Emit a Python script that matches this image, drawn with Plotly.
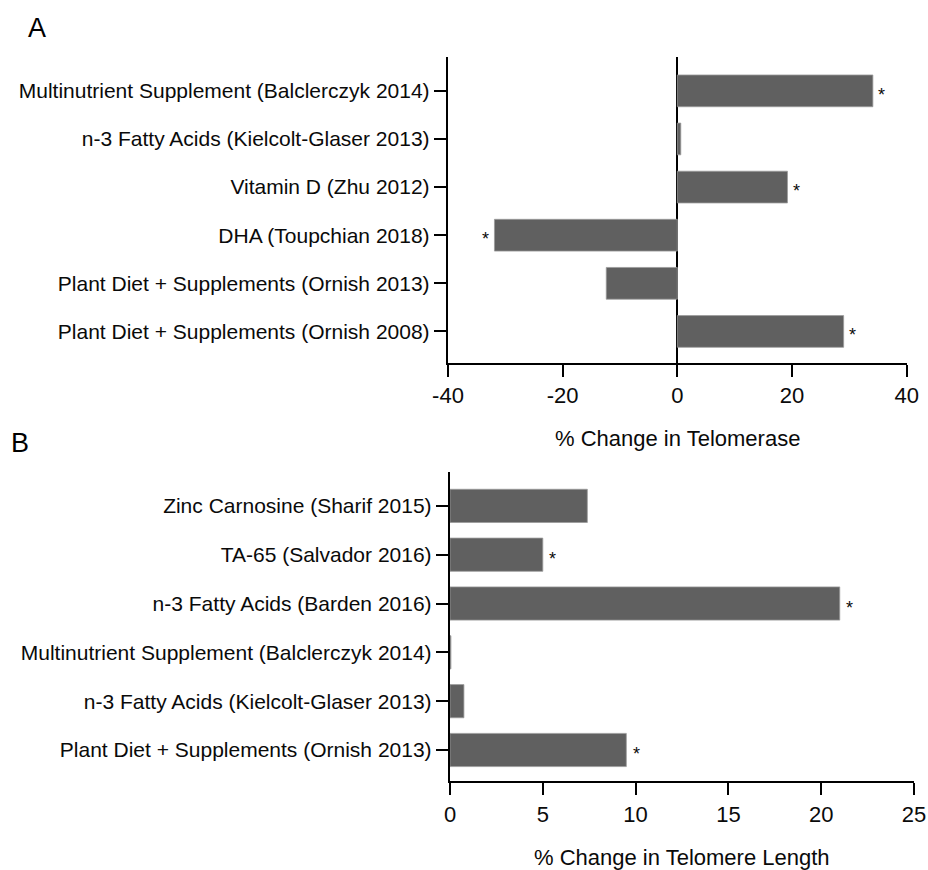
import plotly.graph_objects as go

# ---- Data ----
a_labels = [
    "Multinutrient Supplement (Balclerczyk 2014)",
    "n-3 Fatty Acids (Kielcolt-Glaser 2013)",
    "Vitamin D (Zhu 2012)",
    "DHA (Toupchian 2018)",
    "Plant Diet + Supplements (Ornish 2013)",
    "Plant Diet + Supplements (Ornish 2008)",
]
a_values = [34.1, 0.6, 19.2, -31.9, -12.4, 29.0]
a_sig = [True, False, True, True, False, True]

b_labels = [
    "Zinc Carnosine (Sharif 2015)",
    "TA-65 (Salvador 2016)",
    "n-3 Fatty Acids (Barden 2016)",
    "Multinutrient Supplement (Balclerczyk 2014)",
    "n-3 Fatty Acids (Kielcolt-Glaser 2013)",
    "Plant Diet + Supplements (Ornish 2013)",
]
b_values = [7.4, 5.0, 21.0, 0.05, 0.75, 9.5]
b_sig = [False, True, True, False, False, True]

a_ticks = [-40, -20, 0, 20, 40]
b_ticks = [0, 5, 10, 15, 20, 25]

FONT = "Arial, 'Liberation Sans', sans-serif"
BAR = "#606060"
TXT = "#0a0a0a"
W, H = 928, 870


def px(sx):
    return sx / W


def py(sy):
    return 1 - sy / H


fig = go.Figure()
fig.add_trace(go.Bar(x=a_values, y=a_labels, orientation="h", width=0.66,
                     marker=dict(color=BAR, line=dict(color="#9a9a9a", width=0.8)),
                     xaxis="x", yaxis="y", showlegend=False))
fig.add_trace(go.Bar(x=b_values, y=b_labels, orientation="h", width=0.68,
                     marker=dict(color=BAR, line=dict(color="#9a9a9a", width=0.8)),
                     xaxis="x2", yaxis="y2", showlegend=False))

ann = []
for lab, v, s in zip(a_labels, a_values, a_sig):
    if s:
        ann.append(dict(x=v, y=lab, xref="x", yref="y", text="*", showarrow=False,
                        xshift=9 if v >= 0 else -9, yshift=-4,
                        font=dict(size=18, color=TXT, family=FONT)))
for lab, v, s in zip(b_labels, b_values, b_sig):
    if s:
        ann.append(dict(x=v, y=lab, xref="x2", yref="y2", text="*", showarrow=False,
                        xshift=10, yshift=-4,
                        font=dict(size=18, color=TXT, family=FONT)))

ann += [
    dict(text="A", x=px(26), y=py(28), xref="paper", yref="paper", showarrow=False,
         xanchor="left", yanchor="middle", font=dict(size=27, color="#000", family=FONT)),
    dict(text="B", x=px(9), y=py(443), xref="paper", yref="paper", showarrow=False,
         xanchor="left", yanchor="middle", font=dict(size=27, color="#000", family=FONT)),
    dict(text="% Change in Telomerase", x=px(677), y=py(438), xref="paper", yref="paper",
         showarrow=False, xanchor="center", yanchor="middle",
         font=dict(size=22, color=TXT, family=FONT)),
    dict(text="% Change in Telomere Length", x=px(682), y=py(857), xref="paper", yref="paper",
         showarrow=False, xanchor="center", yanchor="middle",
         font=dict(size=22, color=TXT, family=FONT)),
]

axis_common = dict(showline=True, linecolor="#000", linewidth=2.4, ticks="outside",
                   ticklen=12, tickwidth=2.4, tickcolor="#000", showgrid=False,
                   automargin=False,
                   tickfont=dict(size=22, color=TXT, family=FONT), fixedrange=True)
yaxis_common = dict(showline=True, linecolor="#000", linewidth=2.4, ticks="outside",
                    ticklen=12, tickwidth=2.4, tickcolor="#000", showgrid=False,
                    automargin=False,
                    tickfont=dict(size=21, color=TXT, family=FONT), type="category",
                    categoryorder="array", zeroline=False, fixedrange=True)

fig.update_layout(
    template="none",
    width=W, height=H,
    margin=dict(l=0, r=0, t=0, b=0, pad=0, autoexpand=False),
    paper_bgcolor="white", plot_bgcolor="white",
    showlegend=False,
    xaxis=dict(axis_common, domain=[px(448), px(906.7)], anchor="y", range=[-40, 40],
               tickvals=a_ticks, ticktext=[str(t) for t in a_ticks],
               zeroline=True, zerolinecolor="#000", zerolinewidth=2.4),
    yaxis=dict(yaxis_common, domain=[py(362.7), py(56.7)], anchor="x",
               categoryarray=a_labels[::-1], range=[-0.65, 5.71]),
    xaxis2=dict(axis_common, domain=[px(450), px(914)], anchor="y2", range=[0, 25],
                tickvals=b_ticks, ticktext=[str(t) for t in b_ticks], zeroline=False),
    yaxis2=dict(yaxis_common, domain=[py(781), py(471.7)], anchor="x2",
                categoryarray=b_labels[::-1], range=[-0.635, 5.70]),
    annotations=ann,
)

fig.write_html(
    "out.html",
    config={"displayModeBar": False},
    post_script="document.body.style.margin='0px';document.body.style.overflow='hidden';",
)
